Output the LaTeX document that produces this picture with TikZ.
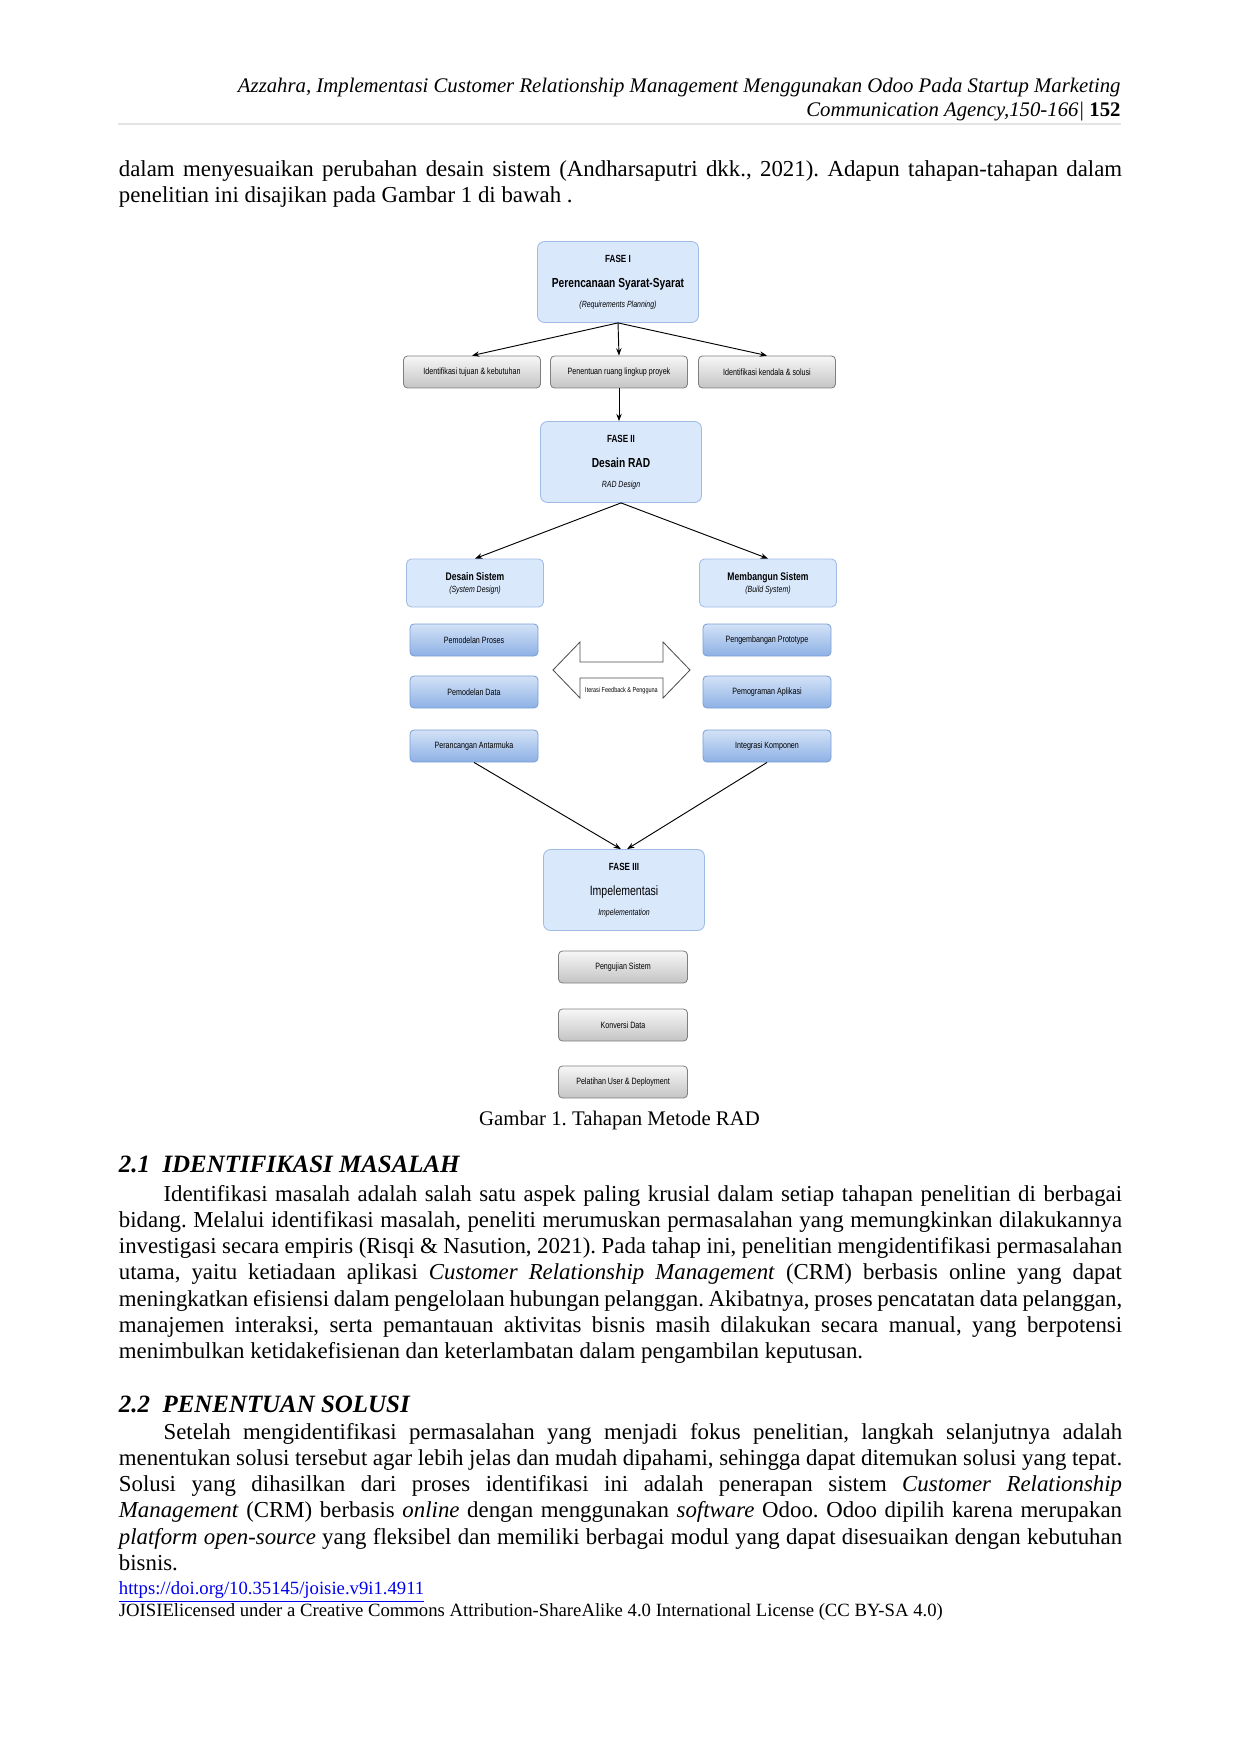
\documentclass[tikz,border=0pt]{standalone}
\usepackage{fontspec}
\setmainfont{Liberation Serif}
\newfontfamily\dgsans[FakeStretch=0.78]{Liberation Sans}
\usetikzlibrary{arrows.meta,positioning,calc}
\newlength{\pxu}
\setlength{\pxu}{0.016922cm}
\definecolor{fasefill}{HTML}{DAE8FC}
\definecolor{faseline}{HTML}{9EBBE6}
\definecolor{subtop}{HTML}{D3E2F7}
\definecolor{subbot}{HTML}{8DB1E5}
\definecolor{subline}{HTML}{7A9FD6}
\definecolor{graytop}{HTML}{F7F7F7}
\definecolor{graybot}{HTML}{C4C4C4}
\definecolor{grayline}{HTML}{7F7F7F}
\definecolor{linkblue}{HTML}{0000EE}
\definecolor{rulegray}{HTML}{E4E4E4}
\hyphenpenalty=10000
\exhyphenpenalty=10000
\tolerance=9999
\frenchspacing

\begin{document}
\begin{tikzpicture}[x=\pxu, y=-\pxu,
  phase/.style={draw=faseline, fill=fasefill, rounded corners=7\pxu, minimum width=161\pxu, minimum height=81\pxu, align=center, inner sep=0, font=\dgsans\fontsize{5}{9.6}\selectfont},
  part/.style={draw=faseline, fill=fasefill, rounded corners=5\pxu, minimum width=137\pxu, minimum height=48\pxu, align=center, inner sep=0, font=\dgsans\fontsize{5}{5.8}\selectfont},
  task/.style={draw=grayline, top color=graytop, bottom color=graybot, rounded corners=4\pxu, minimum width=#1, minimum height=32\pxu, inner sep=0, font=\dgsans\fontsize{4.4}{5}\selectfont},
  task/.default=137\pxu,
  sub/.style={draw=subline, top color=subtop, bottom color=subbot, rounded corners=4\pxu, minimum width=128\pxu, minimum height=32\pxu, inner sep=0, font=\dgsans\fontsize{4.4}{5}\selectfont},
  flow/.style={-{Stealth[length=3.5pt,width=2.6pt]}, line width=0.45pt},
  para/.style={anchor=base west, text width=483pt, align=justify, inner sep=0, font=\fontsize{11}{12.65}\selectfont},
  sect/.style={anchor=base west, inner sep=0, font=\fontsize{12}{13.8}\selectfont\bfseries\itshape}
]
\useasboundingbox (0,0) rectangle (1241,1753);

% Running head
\node[anchor=base east, inner sep=0, font=\fontsize{10}{11.5}\selectfont\itshape] (head1) at (1121,93)
  {Azzahra, Implementasi Customer Relationship Management Menggunakan Odoo Pada Startup Marketing};
\node[anchor=base east, inner sep=0, font=\fontsize{10}{11.5}\selectfont\itshape] (head2) at (1121,117)
  {Communication Agency,150-166| {\upshape\bfseries 152}};
\draw[rulegray, line width=1.2pt] (118,124) -- (1121,124);

\node[para] (intro) at (118.5,176.5)
  {dalam menyesuaikan perubahan desain sistem (Andharsaputri dkk., 2021). Adapun tahapan-tahapan dalam\linebreak
   penelitian ini disajikan pada Gambar 1 di bawah .};

% Fase I
\node[phase] (fase1) at (618,282)
  {{\bfseries FASE I}\\[2.4pt]{\fontsize{6.3}{7}\selectfont\bfseries Perencanaan Syarat-Syarat}\\{\fontsize{4.3}{5}\selectfont\itshape (Requirements Planning)}};
\node[task] (tujuan) at (472,372) {Identifikasi tujuan \& kebutuhan};
\node[task] (lingkup) at (619,372) {Penentuan ruang lingkup proyek};
\node[task] (kendala) at (767,372) {Identifikasi kendala \& solusi};

% Fase II
\node[phase] (fase2) at (621,462)
  {{\bfseries FASE II}\\[2.4pt]{\fontsize{6.3}{7}\selectfont\bfseries Desain RAD}\\{\fontsize{4.3}{5}\selectfont\itshape RAD Design}};
\node[part] (desain) at (475,583)
  {{\fontsize{5.3}{6}\selectfont\bfseries Desain Sistem}\\{\fontsize{4.3}{5}\selectfont\itshape (System Design)}};
\node[part] (bangun) at (768,583)
  {{\fontsize{5.3}{6}\selectfont\bfseries Membangun Sistem}\\{\fontsize{4.3}{5}\selectfont\itshape (Build System)}};

\node[sub] (proses) at (474,640) {Pemodelan Proses};
\node[sub] (data) at (474,692) {Pemodelan Data};
\node[sub] (antarmuka) at (474,746) {Perancangan Antarmuka};
\node[sub] (prototype) at (767,640) {Pengembangan Prototype};
\node[sub] (aplikasi) at (767,692) {Pemograman Aplikasi};
\node[sub] (integrasi) at (767,746) {Integrasi Komponen};

% feedback loop
\draw[line width=0.4pt, gray!60!black] (553,670) -- (580,642) -- (580,662) -- (663,662) -- (663,642) -- (690,670)
  -- (663,698) -- (663,678) -- (580,678) -- (580,698) -- cycle;
\node[inner sep=0, font=\dgsans\fontsize{3.4}{4}\selectfont] (iterasi) at (621.5,691) {Iterasi Feedback \& Pengguna};

% Fase III
\node[phase] (fase3) at (624,890)
  {{\bfseries FASE III}\\[2.4pt]{\fontsize{6.5}{7}\selectfont Impelementasi}\\{\fontsize{4.3}{5}\selectfont\itshape Impelementation}};
\node[task=129\pxu] (uji) at (623,967) {Pengujian Sistem};
\node[task=129\pxu] (konversi) at (623,1025) {Konversi Data};
\node[task=129\pxu] (pelatihan) at (623,1082) {Pelatihan User \& Deployment};

\draw[flow] (fase1.south) -- (tujuan.north);
\draw[flow] (fase1.south) -- (lingkup.north);
\draw[flow] (fase1.south) -- (kendala.north);
\draw[flow] (lingkup.south) -- (lingkup.south |- fase2.north);
\draw[flow] (fase2.south) -- (desain.north);
\draw[flow] (fase2.south) -- (bangun.north);
\draw[flow] (antarmuka.south) -- ([xshift=-1.5pt]fase3.north);
\draw[flow] (integrasi.south) -- ([xshift=1.5pt]fase3.north);

\node[anchor=base, inner sep=0, font=\fontsize{10}{11.5}\selectfont] (caption) at (619.5,1125) {Gambar 1. Tahapan Metode RAD};

% 2.1
\node[sect] (sec1) at (118.5,1172.5) {2.1\hspace{6pt}IDENTIFIKASI MASALAH};
\node[para] (masalah) at (118.5,1201)
  {\hspace*{21.5pt}Identifikasi masalah adalah salah satu aspek paling krusial dalam setiap tahapan penelitian di berbagai\linebreak
   bidang. Melalui identifikasi masalah, peneliti merumuskan permasalahan yang memungkinkan dilakukannya\linebreak
   investigasi secara empiris (Risqi \& Nasution, 2021). Pada tahap ini, penelitian mengidentifikasi permasalahan\linebreak
   utama, yaitu ketiadaan aplikasi \textit{Customer Relationship Management} (CRM) berbasis online yang dapat\linebreak
   meningkatkan efisiensi dalam pengelolaan hubungan pelanggan. Akibatnya, proses pencatatan data pelanggan,\linebreak
   manajemen interaksi, serta pemantauan aktivitas bisnis masih dilakukan secara manual, yang berpotensi\linebreak
   menimbulkan ketidakefisienan dan keterlambatan dalam pengambilan keputusan.};

% 2.2
\node[sect] (sec2) at (118.5,1412) {2.2\hspace{6pt}PENENTUAN SOLUSI};
\node[para] (solusi) at (118.5,1439)
  {\hspace*{21.5pt}Setelah mengidentifikasi permasalahan yang menjadi fokus penelitian, langkah selanjutnya adalah\linebreak
   menentukan solusi tersebut agar lebih jelas dan mudah dipahami, sehingga dapat ditemukan solusi yang tepat.\linebreak
   Solusi yang dihasilkan dari proses identifikasi ini adalah penerapan sistem \textit{Customer Relationship}\linebreak
   \textit{Management} (CRM) berbasis \textit{online} dengan menggunakan \textit{software} Odoo. Odoo dipilih karena merupakan\linebreak
   \textit{platform open-source} yang fleksibel dan memiliki berbagai modul yang dapat disesuaikan dengan kebutuhan\linebreak
   bisnis.};

% footer
\node[anchor=base west, inner sep=0, font=\fontsize{9}{10.35}\selectfont, text=linkblue] (doi) at (118.5,1594)
  {\underline{https://doi.org/10.35145/joisie.v9i1.4911}};
\node[anchor=base west, inner sep=0, font=\fontsize{9}{10.35}\selectfont] (lisensi) at (118.5,1616)
  {JOISIElicensed under a Creative Commons Attribution-ShareAlike 4.0 International License (CC BY-SA 4.0)};
\end{tikzpicture}
\end{document}
